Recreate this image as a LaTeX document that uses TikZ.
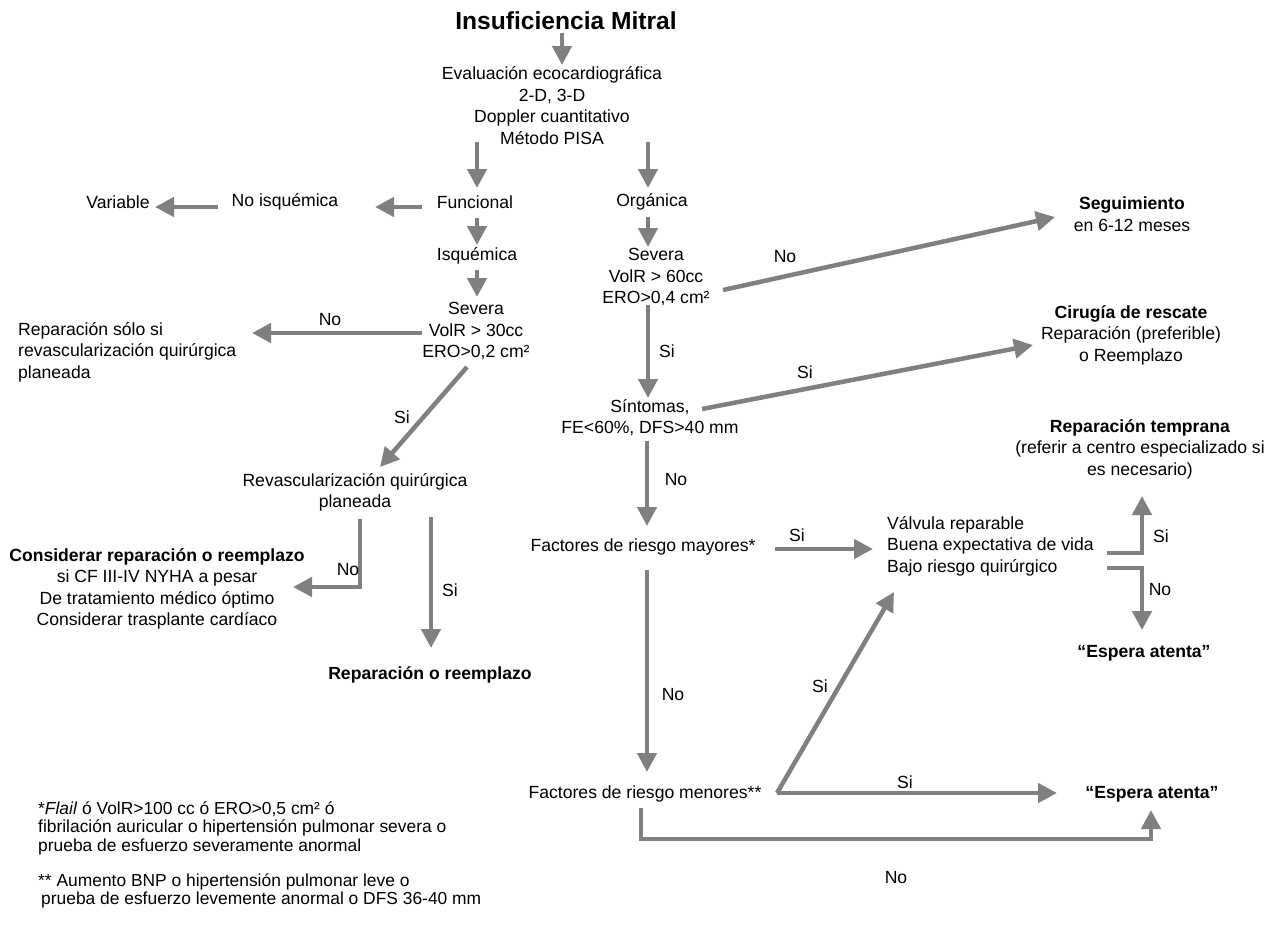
\documentclass[tikz,border=0pt]{standalone}
\usepackage{fontspec}
\setmainfont{Liberation Sans}
\usetikzlibrary{arrows.meta}
\definecolor{ag}{RGB}{128,128,128}
\tikzset{
  txt/.style={font=\fontsize{17.6}{21.5}\selectfont, align=center, inner sep=0pt},
  txtl/.style={txt, align=left},
  txtb/.style={txt, font=\fontsize{17.6}{21.5}\selectfont\bfseries},
  foot/.style={font=\fontsize{17.4}{18.5}\selectfont, align=left, inner sep=0pt, anchor=west},
  arr/.style={draw=ag, line width=4.5pt, line join=miter, -{Triangle[length=19pt,width=19pt]}},
}
\begin{document}
\begin{tikzpicture}[x=1pt,y=-1pt]
\fill[white] (0,0) rectangle (1279,929);
\useasboundingbox (0,0) rectangle (1279,929);

% ---------- nodes ----------
\node[inner sep=0pt, font=\fontsize{24.6}{28}\selectfont\bfseries] (title) at (566,21) {Insuficiencia Mitral};
\node[txt] (eval) at (552,105.5) {Evaluación ecocardiográfica\\2-D, 3-D\\Doppler cuantitativo\\Método PISA};
\node[txt] (func) at (475,202) {Funcional};
\node[txt] (org) at (652,202) {Orgánica};
\node[txt] (noisq) at (285,202) {No isquémica};
\node[txt] (variable) at (118,202) {Variable};
\node[txt] (isq) at (477,256) {Isquémica};
\node[txt] (sevL) at (476,331) {Severa\\VolR > 30cc\\ERO>0,2 cm²};
\node[txtl, anchor=west] (repsolo) at (18,352) {Reparación sólo si\\revascularización quirúrgica\\planeada};
\node[txt] (revasc) at (355,492.5) {Revascularización quirúrgica\\planeada};
\node[txt] (considerar) at (157,589) {\textbf{Considerar reparación o reemplazo}\\si CF III-IV NYHA a pesar\\De tratamiento médico óptimo\\Considerar trasplante cardíaco};
\node[txtb] (reprem) at (430,675) {Reparación o reemplazo};
\node[txt] (sevR) at (656,277) {Severa\\VolR > 60cc\\ERO>0,4 cm²};
\node[txt] (seguim) at (1132,214) {\textbf{Seguimiento}\\en 6-12 meses};
\node[txt] (sint) at (650,417.5) {Síntomas,\\FE<60\%, DFS>40 mm};
\node[txt] (cirugia) at (1131,335) {\textbf{Cirugía de rescate}\\Reparación (preferible)\\o Reemplazo};
\node[txt] (mayores) at (643,547) {Factores de riesgo mayores*};
\node[txtl, anchor=west] (valvula) at (887,546) {Válvula reparable\\Buena expectativa de vida\\Bajo riesgo quirúrgico};
\node[txt] (reptemp) at (1140,449) {\textbf{Reparación temprana}\\(referir a centro especializado si\\es necesario)};
\node[txtb] (espera1) at (1144,653) {“Espera atenta”};
\node[txt] (menores) at (645,794) {Factores de riesgo menores**};
\node[txtb] (espera2) at (1152,794) {“Espera atenta”};
\node[foot] (fn1) at (38,828) {*\textit{Flail} ó VolR>100 cc ó ERO>0,5 cm² ó\\fibrilación auricular o hipertensión pulmonar severa o\\prueba de esfuerzo severamente anormal};
\node[foot] (fn2) at (38,891) {** Aumento BNP o hipertensión pulmonar leve o\\\hspace{3pt}prueba de esfuerzo levemente anormal o DFS 36-40 mm};

% ---------- connector end points ----------
\coordinate (t1) at (562,33);   \coordinate (t2) at (562,65);
\coordinate (e1) at (477,142);  \coordinate (e2) at (477,188);
\coordinate (e3) at (648,142);  \coordinate (e4) at (648,188);
\coordinate (f1) at (422,207);  \coordinate (f2) at (375,207);
\coordinate (n1) at (218,207);  \coordinate (n2) at (155,207);
\coordinate (f3) at (477,218);  \coordinate (f4) at (477,245);
\coordinate (i1) at (477,270);  \coordinate (i2) at (477,297);
\coordinate (s1) at (422,333);  \coordinate (s2) at (252,333);
\coordinate (s3) at (467,367);  \coordinate (s4) at (380,467);
\coordinate (r1) at (360,519);  \coordinate (r2) at (360,587);  \coordinate (r3) at (293,587);
\coordinate (r4) at (431,517);  \coordinate (r5) at (431,648);
\coordinate (o1) at (648,217);  \coordinate (o2) at (648,247);
\coordinate (v1) at (723,290);  \coordinate (v2) at (1055,217);
\coordinate (v3) at (648,305);  \coordinate (v4) at (648,398);
\coordinate (y1) at (702,409);  \coordinate (y2) at (1033,345);
\coordinate (y3) at (647,441);  \coordinate (y4) at (647,526);
\coordinate (m1) at (775,549);  \coordinate (m2) at (873,549);
\coordinate (b1) at (1107,553); \coordinate (b2) at (1142,553); \coordinate (b3) at (1142,496);
\coordinate (b4) at (1107,568); \coordinate (b5) at (1142,568); \coordinate (b6) at (1142,630);
\coordinate (m3) at (647,570);  \coordinate (m4) at (647,772);
\coordinate (k1) at (777,793);  \coordinate (k2) at (894,592);  \coordinate (k3) at (1057,793);
\coordinate (k4) at (641,808);  \coordinate (k5) at (641,839);  \coordinate (k6) at (1151,839); \coordinate (k7) at (1151,810);

% ---------- connectors ----------
\draw[arr] (t1) -- (t2);
\draw[arr] (e1) -- (e2);
\draw[arr] (e3) -- (e4);
\draw[arr] (f1) -- (f2);
\draw[arr] (n1) -- (n2);
\draw[arr] (f3) -- (f4);
\draw[arr] (i1) -- (i2);
\draw[arr] (s1) -- (s2);
\draw[arr] (s3) -- (s4);
\draw[arr] (r1) -- (r2) -- (r3);
\draw[arr] (r4) -- (r5);
\draw[arr] (o1) -- (o2);
\draw[arr] (v1) -- (v2);
\draw[arr] (v3) -- (v4);
\draw[arr] (y1) -- (y2);
\draw[arr] (y3) -- (y4);
\draw[arr] (m1) -- (m2);
\draw[arr] (b1) -- (b2) -- (b3);
\draw[arr] (b4) -- (b5) -- (b6);
\draw[arr] (m3) -- (m4);
\draw[arr] (k1) -- (k2);
\draw[arr] (k1) -- (k3);
\draw[arr] (k4) -- (k5) -- (k6) -- (k7);

% ---------- labels ----------
\node[txt] (lNo1) at (330,320) {No};
\node[txt] (lSi1) at (402,417) {Si};
\node[txt] (lNo2) at (348,570) {No};
\node[txt] (lSi2) at (450,590) {Si};
\node[txt] (lNo3) at (785,257) {No};
\node[txt] (lSi3) at (667,351) {Si};
\node[txt] (lSi4) at (805,372) {Si};
\node[txt] (lNo4) at (676,480) {No};
\node[txt] (lSi5) at (797,535) {Si};
\node[txt] (lSi6) at (1161,536) {Si};
\node[txt] (lNo5) at (1160,590) {No};
\node[txt] (lNo6) at (673,695) {No};
\node[txt] (lSi7) at (820,686) {Si};
\node[txt] (lSi8) at (905,782) {Si};
\node[txt] (lNo7) at (896,878) {No};
\end{tikzpicture}
\end{document}
